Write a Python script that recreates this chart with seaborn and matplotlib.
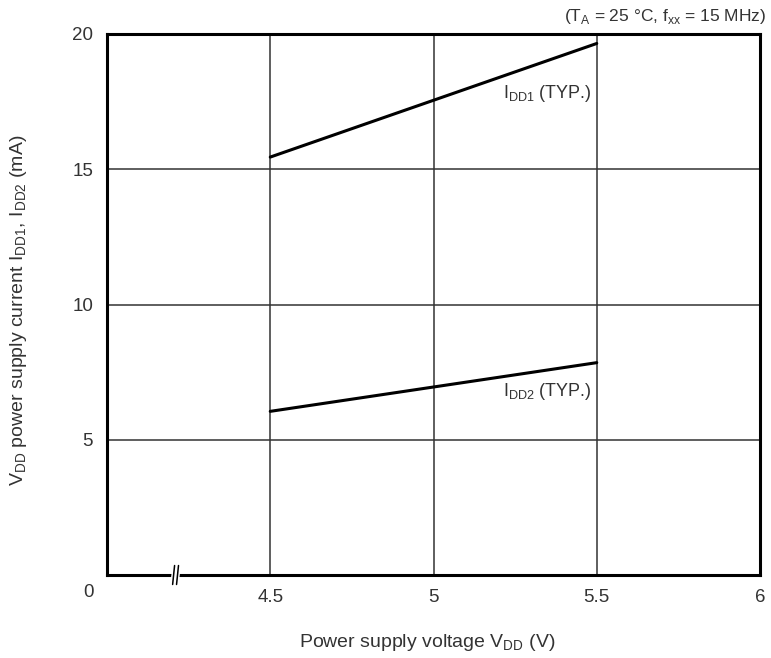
import matplotlib
matplotlib.use("Agg")
import matplotlib.pyplot as plt
import seaborn as sns
import pandas as pd

# Data
voltage = [4.5, 5.5]
idd1 = [15.45, 19.65]
idd2 = [6.05, 7.85]
x_ticks = [4.0, 4.5, 5.0, 5.5, 6.0]
x_tick_labels = ["0", "4.5", "5", "5.5", "6"]
y_ticks = [5, 10, 15, 20]
y_tick_labels = ["5", "10", "15", "20"]

df = pd.DataFrame({
    "V": voltage * 2,
    "I": idd1 + idd2,
    "series": ["IDD1"] * 2 + ["IDD2"] * 2,
})

sns.set_style("white")
plt.rcParams["font.family"] = ["Liberation Sans", "DejaVu Sans"]
plt.rcParams["mathtext.fontset"] = "custom"
plt.rcParams["mathtext.rm"] = "Liberation Sans"

fig = plt.figure(figsize=(7.71, 6.58), dpi=100)
ax = fig.add_axes([107 / 771, 83 / 658, 653 / 771, 541 / 658])

sns.lineplot(data=df, x="V", y="I", units="series", estimator=None,
             color="black", linewidth=2.2, ax=ax, legend=False)

ax.set_xlim(4.0, 6.0)
ax.set_ylim(0, 20)

# grid
for xv in [4.5, 5.0, 5.5]:
    ax.axvline(xv, color="#333333", linewidth=1.1, zorder=0)
for yv in [5, 10, 15]:
    ax.axhline(yv, color="#333333", linewidth=1.1, zorder=0)

for s in ax.spines.values():
    s.set_visible(True)
    s.set_color("black")
    s.set_linewidth(2.2)

tc = "#333333"
ax.set_xticks(x_ticks[1:])
ax.set_xticklabels(x_tick_labels[1:], fontsize=13.5, color=tc)
ax.set_yticks(y_ticks)
ax.set_yticklabels(y_tick_labels, fontsize=13.5, color=tc)
ax.tick_params(length=0, pad=10)
ax.text(-0.028, -0.032, "0", transform=ax.transAxes, fontsize=13.5, color=tc,
        ha="center", va="center")

# axis break mark
bx = 4.21
ax.plot([bx - 0.003, bx + 0.003], [-0.3, 0.3], color="white", linewidth=6,
        clip_on=False, zorder=5, solid_capstyle="butt")
for dx in (-0.006, 0.006):
    ax.plot([bx + dx - 0.003, bx + dx + 0.003], [-0.35, 0.35], color="black",
            linewidth=1.1, clip_on=False, zorder=6)

ax.text(5.485, 17.8, r"I$_{\mathrm{DD1}}$ (TYP.)", fontsize=13, color=tc,
        ha="right", va="center")
ax.text(5.485, 6.8, r"I$_{\mathrm{DD2}}$ (TYP.)", fontsize=13, color=tc,
        ha="right", va="center")

ax.set_xlabel(r"Power supply voltage V$_{\mathrm{DD}}$ (V)", fontsize=14,
              color=tc)
ax.xaxis.set_label_coords(0.49, -0.105)
ax.set_ylabel(r"V$_{\mathrm{DD}}$ power supply current I$_{\mathrm{DD1}}$, "
              r"I$_{\mathrm{DD2}}$ (mA)", fontsize=14, color=tc)
ax.yaxis.set_label_coords(-0.12, 0.49)

fig.text(766 / 771, 1 - 16 / 658,
         r"(T$_{\mathrm{A}}$ = 25 °C, f$_{\mathrm{xx}}$ = 15 MHz)",
         fontsize=12.5, color=tc, ha="right", va="center")

fig.savefig("out.png", dpi=100)
